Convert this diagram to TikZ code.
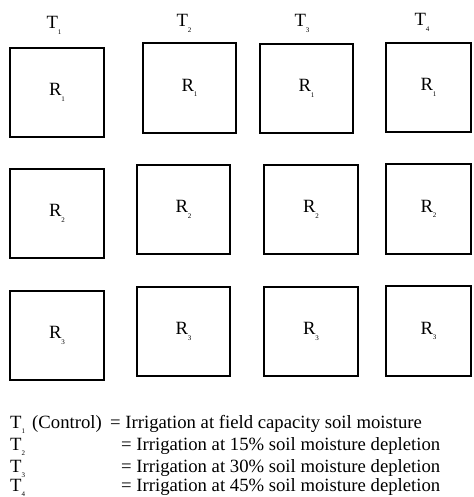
\documentclass[tikz,border=0pt]{standalone}
\usepackage{fontspec}
\setmainfont{Liberation Serif}
% small lowered index, as in T1, R2 ...
\newcommand\lowidx[1]{\raisebox{-0.3em}{\fontsize{7}{8}\selectfont #1}}
\begin{document}
\begin{tikzpicture}[x=1pt,y=-1pt,
  plot/.style={draw, line width=1.4pt, inner sep=0pt, minimum height=89pt,
    font=\fontsize{18.7}{20}\selectfont},
  wide/.style={plot, minimum width=94pt},
  narrow/.style={plot, minimum width=85pt},
  head/.style={font=\fontsize{18.7}{20}\selectfont, inner sep=0pt, anchor=base},
  legend/.style={font=\fontsize{18.7}{20}\selectfont, inner sep=0pt, anchor=base west}]
\useasboundingbox (0,0) rectangle (473,497);

% treatment headings
\node[head] (t1) at (54,29) {T\lowidx{1}};
\node[head] (t2) at (184,27) {T\lowidx{2}};
\node[head] (t3) at (302,27) {T\lowidx{3}};
\node[head] (t4) at (422,26) {T\lowidx{4}};

% replication R1
\node[wide]   (a1) at (57,92.5)   {R\lowidx{1}};
\node[wide, minimum width=93pt, minimum height=90pt] (a2) at (189.5,88) {R\lowidx{1}};
\node[wide, minimum width=93pt] (a3) at (306.5,88.5) {R\lowidx{1}};
\node[narrow] (a4) at (428.5,87.5) {R\lowidx{1}};

% replication R2
\node[wide]   (b1) at (57,213.5)  {R\lowidx{2}};
\node[wide, minimum width=93pt] (b2) at (183.5,209.5) {R\lowidx{2}};
\node[wide]   (b3) at (311,209.5) {R\lowidx{2}};
\node[narrow, minimum height=90pt] (b4) at (428.5,209) {R\lowidx{2}};

% replication R3
\node[wide]   (c1) at (57,335.5)  {R\lowidx{3}};
\node[wide, minimum width=93pt] (c2) at (183.5,331.5) {R\lowidx{3}};
\node[wide]   (c3) at (311,331.5) {R\lowidx{3}};
\node[narrow, minimum height=90pt] (c4) at (428.5,331) {R\lowidx{3}};

% key to the treatments
\node[legend] (k1) at (10,428) {T\lowidx{1}};
\node[legend] (k1c) at (32,428) {(Control)};
\node[legend] (d1) at (110,428) {= Irrigation at field capacity soil moisture};
\node[legend] (k2) at (10,450) {T\lowidx{2}};
\node[legend] (d2) at (121,450) {= Irrigation at 15\% soil moisture depletion};
\node[legend] (k3) at (10,472) {T\lowidx{3}};
\node[legend] (d3) at (121,472) {= Irrigation at 30\% soil moisture depletion};
\node[legend] (k4) at (10,491) {T\lowidx{4}};
\node[legend] (d4) at (121,491) {= Irrigation at 45\% soil moisture depletion};
\end{tikzpicture}
\end{document}
